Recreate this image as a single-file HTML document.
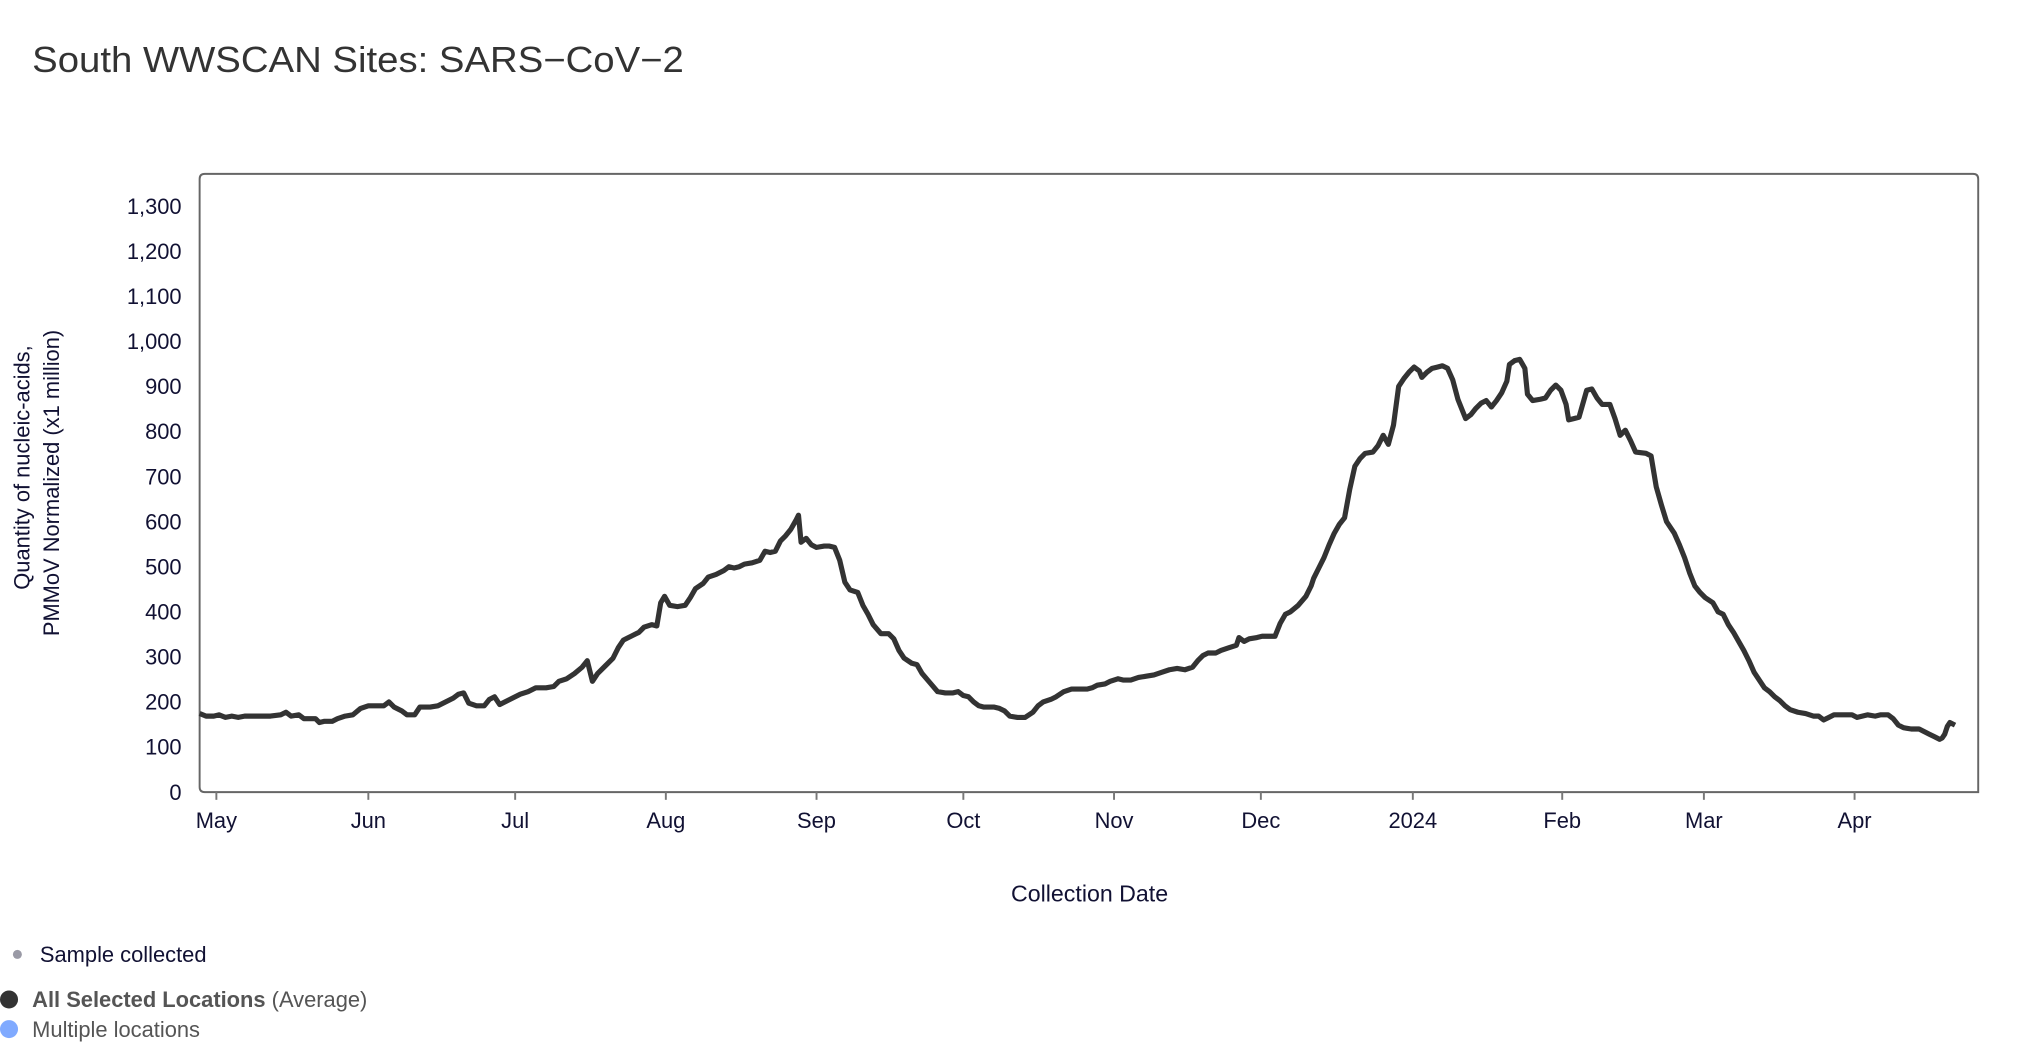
<!DOCTYPE html>
<html><head><meta charset="utf-8"><style>
html,body{margin:0;padding:0;background:#fff;width:2022px;height:1060px;overflow:hidden}
svg{display:block}
text{font-family:"Liberation Sans","DejaVu Sans",sans-serif}
</style></head><body>
<svg width="2022" height="1060" viewBox="0 0 1570 823" preserveAspectRatio="none">
<text x="25" y="56" font-size="28" fill="#333" textLength="506" lengthAdjust="spacingAndGlyphs">South WWSCAN Sites: SARS−CoV−2</text>
<path d="M155,139 Q155,135 159,135 L1532,135 Q1536,135 1536,139 L1536,615 L159,615 Q155,615 155,611 Z" fill="none" stroke="#666" stroke-width="1.5"/>
<g font-size="17" fill="#111133" text-anchor="end">
<text x="141" y="621">0</text><text x="141" y="586">100</text><text x="141" y="551">200</text><text x="141" y="516">300</text><text x="141" y="481">400</text><text x="141" y="446">500</text><text x="141" y="411">600</text><text x="141" y="376">700</text><text x="141" y="341">800</text><text x="141" y="306">900</text><text x="141" y="271">1,000</text><text x="141" y="236">1,100</text><text x="141" y="201">1,200</text><text x="141" y="166">1,300</text>
</g>
<g stroke="#777" stroke-width="1.5">
<line x1="168" y1="615" x2="168" y2="621"/><line x1="286" y1="615" x2="286" y2="621"/><line x1="400" y1="615" x2="400" y2="621"/><line x1="517" y1="615" x2="517" y2="621"/><line x1="634" y1="615" x2="634" y2="621"/><line x1="748" y1="615" x2="748" y2="621"/><line x1="865" y1="615" x2="865" y2="621"/><line x1="979" y1="615" x2="979" y2="621"/><line x1="1097" y1="615" x2="1097" y2="621"/><line x1="1213" y1="615" x2="1213" y2="621"/><line x1="1323" y1="615" x2="1323" y2="621"/><line x1="1440" y1="615" x2="1440" y2="621"/>
</g>
<g font-size="17" fill="#111133" text-anchor="middle">
<text x="168" y="643">May</text><text x="286" y="643">Jun</text><text x="400" y="643">Jul</text><text x="517" y="643">Aug</text><text x="634" y="643">Sep</text><text x="748" y="643">Oct</text><text x="865" y="643">Nov</text><text x="979" y="643">Dec</text><text x="1097" y="643">2024</text><text x="1213" y="643">Feb</text><text x="1323" y="643">Mar</text><text x="1440" y="643">Apr</text>
<text x="846" y="700" font-size="18">Collection Date</text>
</g>
<g font-size="17" fill="#111133" text-anchor="middle">
<text transform="translate(23,363) rotate(-90)">Quantity of nucleic-acids,</text>
<text transform="translate(46,375) rotate(-90)">PMMoV Normalized (x1 million)</text>
</g>
<polyline fill="none" stroke="#333" stroke-width="4" stroke-linejoin="round" points="155,554 160,556 166,556 170,555 175,557 180,556 185,557 190,556 200,556 210,556 218,555 222,553 226,556 232,555 236,558 245,558 248,561 252,560 258,560 262,558 268,556 274,555 280,550 286,548 292,548 298,548 302,545 306,549 312,552 316,555 322,555 326,549 334,549 340,548 346,545 352,542 356,539 360,538 364,546 370,548 376,548 380,543 384,541 388,547 392,545 398,542 404,539 410,537 416,534 424,534 430,533 434,529 440,527 446,523 452,518 456,513 460,529 464,523 470,517 476,511 480,503 484,497 490,494 496,491 500,487 506,485 510,486 513,468 516,463 520,470 526,471 532,470 536,464 540,457 546,453 550,448 556,446 562,443 566,440 570,441 574,440 578,438 584,437 590,435 594,428 598,429 602,428 606,420 610,416 614,411 618,404 620,400 622,421 626,418 630,423 634,425 640,424 644,424 648,425 652,435 656,452 658,455 660,458 666,460 670,470 674,477 678,485 684,492 690,492 694,496 698,505 702,511 708,515 712,516 716,523 722,530 728,537 734,538 740,538 744,537 748,540 752,541 756,545 760,548 764,549 772,549 776,550 780,552 784,556 790,557 796,557 802,553 806,548 810,545 816,543 820,541 826,537 832,535 838,535 844,535 848,534 852,532 858,531 862,529 868,527 872,528 878,528 884,526 890,525 896,524 902,522 908,520 914,519 920,520 926,518 930,513 934,509 938,507 944,507 948,505 954,503 960,501 962,495 966,498 970,496 976,495 980,494 990,494 994,484 998,477 1002,475 1008,470 1014,463 1018,455 1020,449 1024,441 1028,433 1032,423 1036,414 1040,407 1044,402 1048,380 1052,362 1056,356 1060,352 1066,351 1070,346 1074,338 1078,345 1082,330 1086,300 1090,294 1094,289 1098,285 1102,288 1104,293 1108,289 1112,286 1116,285 1120,284 1124,286 1128,295 1132,310 1136,320 1138,325 1142,322 1146,317 1150,313 1154,311 1158,316 1162,311 1166,305 1170,296 1172,283 1176,280 1180,279 1184,286 1186,306 1190,311 1196,310 1200,309 1204,303 1208,299 1212,303 1216,314 1218,326 1222,325 1226,324 1232,303 1236,302 1240,309 1244,314 1250,314 1254,325 1258,338 1262,334 1266,342 1270,351 1278,352 1282,354 1286,378 1290,392 1294,405 1300,414 1304,423 1308,433 1312,445 1316,455 1320,460 1324,464 1330,468 1334,475 1338,477 1342,485 1346,491 1350,498 1354,505 1358,513 1362,522 1366,528 1370,534 1374,537 1378,541 1382,544 1386,548 1390,551 1396,553 1402,554 1408,556 1412,556 1416,559 1420,557 1424,555 1432,555 1438,555 1442,557 1446,556 1450,555 1456,556 1460,555 1466,555 1470,558 1474,563 1478,565 1484,566 1490,566 1494,568 1498,570 1502,572 1506,574 1508,573 1510,570 1512,564 1514,561 1518,563"/>
<circle cx="13.5" cy="741" r="3.5" fill="#9a9aa6"/>
<text x="31" y="747" font-size="17" fill="#111133">Sample collected</text>
<circle cx="7" cy="776" r="7" fill="#333"/>
<text x="25" y="782" font-size="17" fill="#555"><tspan font-weight="bold">All Selected Locations</tspan> (Average)</text>
<circle cx="7" cy="799" r="7" fill="#80aaff"/>
<text x="25" y="805" font-size="17" fill="#555">Multiple locations</text>
</svg>
</body></html>
